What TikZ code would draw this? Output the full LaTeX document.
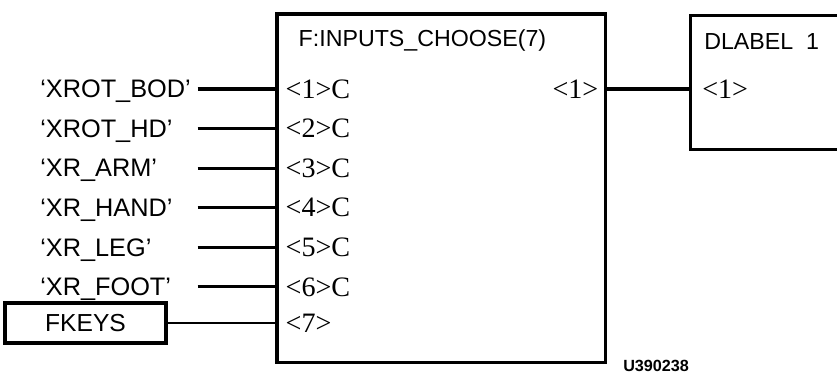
\documentclass[tikz,border=0pt]{standalone}
\usepackage{fontspec}
\setmainfont{Liberation Sans}
\newfontfamily\portfont{Liberation Serif}
\usetikzlibrary{positioning}
\tikzset{
    % Function block
    block/.style={
        rectangle,
        draw=black,
        line width=2.2pt,
        inner sep=0pt
    },
    % Literal input
    literal/.style={
        rectangle,
        inner sep=0pt,
        text width=3.925cm,
        minimum height=0.975cm,
        text depth=0pt,
        align=left,
        font=\fontsize{18}{20}\selectfont
    },
    % Block title
    blocktitle/.style={
        anchor=west,
        inner sep=0pt,
        font=\fontsize{16.5}{19}\selectfont
    },
    % Port label
    port/.style={
        inner sep=0pt,
        font=\portfont\fontsize{20}{22}\selectfont
    },
    % Wire
    wire/.style={
        line width=2.2pt
    }
}
\begin{document}
\begin{tikzpicture}[x=0.025cm, y=-0.025cm]
        \clip (0,0) rectangle (837,376);

        % Blocks
        \node (choose) [block, minimum width=8.2cm, minimum height=8.7cm] at (441,188) {};
        \node [blocktitle, xshift=0.575cm, yshift=-0.7cm] at (choose.north west) {F:INPUTS\_CHOOSE(7)};

        \node (dlabel) [block, minimum width=5cm, minimum height=3.35cm, anchor=north west] at (689,14) {};
        \node [blocktitle, xshift=0.375cm, yshift=-0.7cm] at (dlabel.north west) {DLABEL~~1};

        % Inputs
        \node (in1) [literal, anchor=west] at (40,89) {`XROT\_BOD'};
        \node (in2) [literal, below=0cm of in1] {`XROT\_HD'};
        \node (in3) [literal, below=0cm of in2] {`XR\_ARM'};
        \node (in4) [literal, below=0cm of in3] {`XR\_HAND'};
        \node (in5) [literal, below=0cm of in4] {`XR\_LEG'};
        \node (in6) [literal, below=0cm of in5] {`XR\_FOOT'};
        \node (fkeys) [block, minimum width=4.025cm, minimum height=1cm, font=\fontsize{17.5}{19}\selectfont] at (85.5,323) {FKEYS};

        % Ports
        \node (p1) [port, anchor=west, xshift=0.25cm] at (in1.east -| choose.west) {<1>C};
        \node (p2) [port, anchor=west, xshift=0.25cm] at (in2.east -| choose.west) {<2>C};
        \node (p3) [port, anchor=west, xshift=0.25cm] at (in3.east -| choose.west) {<3>C};
        \node (p4) [port, anchor=west, xshift=0.25cm] at (in4.east -| choose.west) {<4>C};
        \node (p5) [port, anchor=west, xshift=0.25cm] at (in5.east -| choose.west) {<5>C};
        \node (p6) [port, anchor=west, xshift=0.25cm] at (in6.east -| choose.west) {<6>C};
        \node (p7) [port, anchor=west, xshift=0.25cm] at (fkeys.east -| choose.west) {<7>};
        \node (out1) [port, anchor=east, xshift=-0.2cm] at (in1.east -| choose.east) {<1>};
        \node (d1) [port, anchor=west, xshift=0.325cm] at (out1 -| dlabel.west) {<1>};

        % Wires
        \draw [wire] (in1.east) -- (in1.east -| choose.west);
        \draw [wire] (in2.east) -- (in2.east -| choose.west);
        \draw [wire] (in3.east) -- (in3.east -| choose.west);
        \draw [wire] (in4.east) -- (in4.east -| choose.west);
        \draw [wire] (in5.east) -- (in5.east -| choose.west);
        \draw [wire] (in6.east) -- (in6.east -| choose.west);
        \draw [line width=1.5pt] (fkeys.east) -- (fkeys.east -| choose.west);
        \draw [wire] (out1 -| choose.east) -- (out1 -| dlabel.west);

        \node (code) [anchor=west, inner sep=0pt, font=\bfseries\fontsize{11.5}{12}\selectfont] at (623,366) {U390238};
    \end{tikzpicture}
\end{document}
